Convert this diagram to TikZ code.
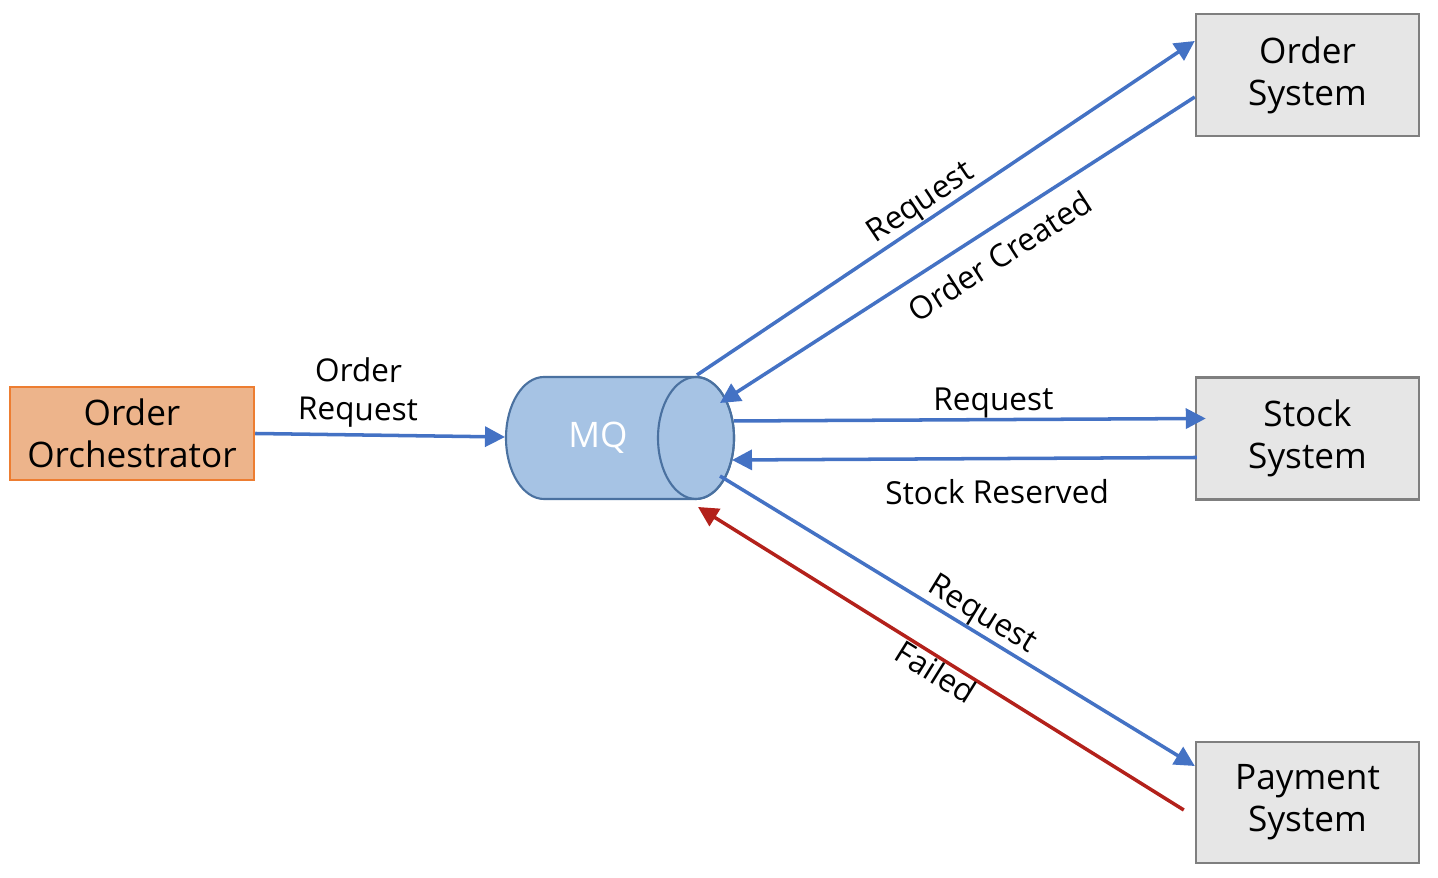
\documentclass[tikz,border=0pt]{standalone}
\usepackage{fontspec}
\setmainfont{Open Sans}
\usetikzlibrary{arrows.meta}
\definecolor{flowblue}{HTML}{4472C4}
\definecolor{failred}{HTML}{B3211B}
\definecolor{orchfill}{HTML}{EDB48B}
\definecolor{orchline}{HTML}{ED7D31}
\definecolor{sysfill}{HTML}{E6E6E6}
\definecolor{sysline}{HTML}{7F7F7F}
\definecolor{mqfill}{HTML}{A6C3E4}
\definecolor{mqline}{HTML}{4A71A0}

\begin{document}
\begin{tikzpicture}[>={Triangle[length=2mm,width=2mm]}, scale=1,
  sysbox/.style={draw=sysline, fill=sysfill, line width=0.7pt, minimum width=2.23cm,
    minimum height=1.22cm, align=center, font=\fontsize{10}{12}\selectfont},
  flow/.style={flowblue, line width=1pt, ->},
  lbl/.style={black, font=\fontsize{9}{11}\selectfont, sloped, inner sep=0pt}]
  \useasboundingbox (0,0) rectangle (14.38,8.78);
  \node[draw=orchline, fill=orchfill, line width=0.7pt, minimum width=2.44cm, minimum height=0.87cm,
    align=center, font=\fontsize{10}{12}\selectfont] (orch) at (1.32,4.445) {Order\\Orchestrator};
  \node[sysbox] (os) at (13.075,8.03) {Order\\System};
  \node[sysbox] (ss) at (13.075,4.395) {Stock\\System};
  \node[sysbox, minimum height=1.21cm] (ps) at (13.075,0.755) {Payment\\System};
  % queue
  \draw[mqline, fill=mqfill, line width=0.6pt] (5.44,5.01) -- (6.96,5.01)
    arc[start angle=90, end angle=-90, x radius=0.38, y radius=0.61] -- (5.44,3.79)
    arc[start angle=270, end angle=90, x radius=0.38, y radius=0.61] -- cycle;
  \draw[mqline, line width=0.6pt] (6.96,4.40) ellipse [x radius=0.38, y radius=0.61];
  \node[text=white, font=\fontsize{10}{12}\selectfont] (mq) at (5.98,4.40) {MQ};
  \coordinate (mqin) at (5.05,4.41);
  \coordinate (mqa) at (6.97,5.03);
  \coordinate (mqb) at (7.20,4.75);
  \coordinate (mqc) at (7.34,4.57);
  \coordinate (mqd) at (7.32,4.18);
  \coordinate (mqe) at (7.20,4.02);
  \coordinate (mqf) at (6.98,3.71);
  \draw[flow] (orch.east) -- (mqin) node[lbl, pos=0.41, above, inner sep=1.5pt, align=center] {Order\\Request};
  \draw[flow] (mqa) -- ([yshift=3.4mm]os.west) node[lbl, pos=0.47, above] {Request};
  \draw[flow] ([yshift=-2.2mm]os.west) -- (mqb) node[lbl, pos=0.443, below, inner sep=4pt] {Order Created};
  \draw[flow] (mqc) -- ([xshift=1.1mm,yshift=2mm]ss.west) node[lbl, pos=0.55, above] {Request};
  \draw[flow] ([xshift=0.2mm,yshift=-1.9mm]ss.west) -- (mqd) node[lbl, pos=0.43, below, inner sep=5.5pt] {Stock Reserved};
  \draw[flow] (mqe) -- ([yshift=3.65mm]ps.west) node[lbl, pos=0.532, above] {Request};
  \draw[flow, failred] ([xshift=-1.1mm,yshift=-0.75mm]ps.west) -- (mqf) node[lbl, pos=0.495, below] {Failed};
\end{tikzpicture}
\end{document}
